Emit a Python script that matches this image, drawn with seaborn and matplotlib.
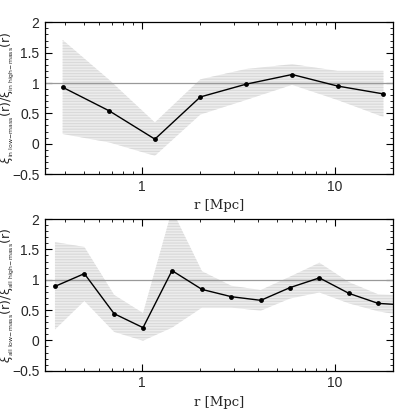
import numpy as np
import pandas as pd
import seaborn as sns
import matplotlib.pyplot as plt
from matplotlib.ticker import FixedLocator, MultipleLocator, FuncFormatter, LogLocator, NullFormatter

# top panel: "in" sample
r_in = [0.39, 0.68, 1.17, 2.01, 3.46, 6.0, 10.3, 17.8]
ratio_in = [0.93, 0.54, 0.075, 0.77, 0.98, 1.14, 0.95, 0.82]
upper_in = [1.71, 1.05, 0.35, 1.06, 1.23, 1.31, 1.20, 1.20]
lower_in = [0.16, 0.02, -0.20, 0.48, 0.72, 0.97, 0.72, 0.44]

# bottom panel: "all" sample
r_all = [0.356, 0.505, 0.72, 1.016, 1.435, 2.05, 2.91, 4.13, 5.85, 8.3, 11.8, 16.7, 23.7]
ratio_all = [0.89, 1.10, 0.44, 0.21, 1.15, 0.84, 0.72, 0.66, 0.87, 1.03, 0.775, 0.61, 0.58]
upper_all = [1.62, 1.54, 0.75, 0.45, 2.15, 1.14, 0.90, 0.83, 1.05, 1.28, 0.96, 0.76, 0.74]
lower_all = [0.18, 0.65, 0.14, -0.005, 0.21, 0.54, 0.54, 0.49, 0.69, 0.79, 0.61, 0.48, 0.40]

sns.set_style("ticks")
plt.rcParams['font.family'] = ['Liberation Sans', 'DejaVu Sans']
plt.rcParams['hatch.color'] = '#dadada'
plt.rcParams['hatch.linewidth'] = 0.9

fig = plt.figure(figsize=(4.15, 4.15), dpi=100)
ax1 = fig.add_axes([0.1084, 0.5807, 0.8386, 0.3655])
ax2 = fig.add_axes([0.1084, 0.1067, 0.8386, 0.3655])

panels = [
    (ax1, r_in, ratio_in, upper_in, lower_in,
     r'$\xi_{{}_{\rm in\ low\!-\!mass}}(\rm r)/\xi_{{}_{\rm in\ high\!-\!mass}}(\rm r)$'),
    (ax2, r_all, ratio_all, upper_all, lower_all,
     r'$\xi_{{}_{\rm all\ low\!-\!mass}}(\rm r)/\xi_{{}_{\rm all\ high\!-\!mass}}(\rm r)$'),
]

for ax, r, y, hi, lo, ylab in panels:
    ax.fill_between(r, lo, hi, facecolor='#ededed', edgecolor='#dadada',
                    hatch='------', linewidth=0, zorder=1)
    ax.axhline(1, color='#999999', lw=0.9, zorder=2)
    df = pd.DataFrame({'r': r, 'ratio': y})
    sns.lineplot(data=df, x='r', y='ratio', ax=ax, color='black', lw=1.0,
                 marker='o', markersize=3.5, markeredgewidth=0, zorder=3)
    ax.set_xscale('log')
    ax.set_xlim(0.316, 19.95)
    ax.set_ylim(-0.5, 2)
    ax.xaxis.set_major_locator(FixedLocator([1, 10]))
    ax.xaxis.set_major_formatter(FuncFormatter(lambda v, p: '%g' % v))
    ax.xaxis.set_minor_locator(LogLocator(base=10, subs=np.arange(2, 10)))
    ax.xaxis.set_minor_formatter(NullFormatter())
    ax.yaxis.set_major_locator(MultipleLocator(0.5))
    ax.yaxis.set_minor_locator(MultipleLocator(0.1))
    ax.yaxis.set_major_formatter(FuncFormatter(lambda v, p: ('%g' % v).replace('-', '\u2212')))
    ax.tick_params(which='both', direction='in', top=True, right=True, labelsize=10, color='black')
    ax.tick_params(which='major', length=5, width=0.8, pad=4)
    ax.tick_params(which='minor', length=2.5, width=0.6)
    for s in ax.spines.values():
        s.set_linewidth(0.9)
        s.set_color('black')
    ax.set_xlabel('r [Mpc]', family='DejaVu Serif', fontsize=9.5, labelpad=4)
    ax.set_ylabel(ylab, fontsize=9)
    ax.yaxis.set_label_coords(-0.08, 0.5)

fig.savefig('out.png', dpi=100)
